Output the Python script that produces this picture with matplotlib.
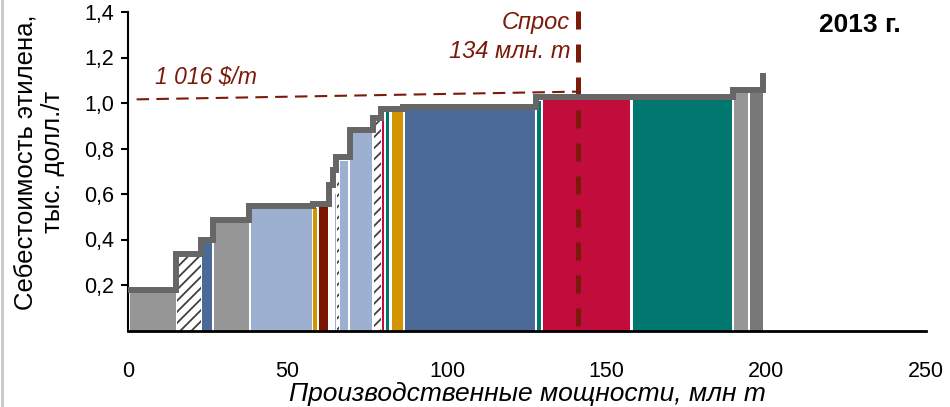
import numpy as np
import matplotlib.pyplot as plt
from matplotlib.lines import Line2D

plt.rcParams['font.family'] = ['Liberation Sans', 'DejaVu Sans']
plt.rcParams['hatch.linewidth'] = 1.3

# capacity blocks (mln t): start, end, cash cost (thous. $/t)
cap_start = [0.5, 15.4, 23.3, 26.9, 38.5, 58.1, 59.8, 64.7, 65.5, 66.5, 69.7,
             77.0, 79.7, 80.9, 82.8, 86.7, 128.0, 130.1, 158.3, 189.8, 195.0]
cap_end = [15.0, 22.9, 26.3, 37.8, 57.7, 59.1, 62.5, 65.1, 66.2, 68.9, 76.4,
           79.3, 80.1, 81.8, 86.0, 127.5, 129.3, 157.3, 189.1, 194.3, 199.0]
cost = [0.17, 0.325, 0.39, 0.475, 0.537, 0.54, 0.547, 0.60, 0.66, 0.745, 0.873,
        0.92, 0.963, 0.965, 0.966, 0.974, 1.008, 1.015, 1.015, 1.045, 1.047]
kind = ['gray', 'hatch', 'blue', 'gray', 'lblue', 'gold', 'dred', 'lblue', 'hatch',
        'lblue', 'lblue', 'hatch', 'crimson', 'teal', 'gold', 'blue', 'teal',
        'crimson', 'teal', 'gray', 'dgray']

# envelope of the cost curve
curve_x = [0, 15, 23, 26.5, 38, 58, 63, 64.3, 65.3, 69.5, 76.8, 79.2, 86,
           127.8, 189.5, 199]
curve_y = [0.18, 0.335, 0.40, 0.485, 0.547, 0.557, 0.64, 0.705, 0.762, 0.883,
           0.932, 0.975, 0.984, 1.025, 1.055, 1.13]

demand = 141
price_line_x = [2.7, 141]
price_line_y = [1.016, 1.05]

yticks = [0.2, 0.4, 0.6, 0.8, 1.0, 1.2, 1.4]
xticks = [0, 50, 100, 150, 200, 250]

palette = {'gray': '#969696', 'dgray': '#787878', 'blue': '#4b6a98',
           'lblue': '#9db0cf', 'gold': '#d39400', 'dred': '#7a1600',
           'crimson': '#c20c3c', 'teal': '#007870', 'hatch': 'white'}
red = '#7b1a0a'

fig = plt.figure(figsize=(9.5, 4.07), dpi=100)
ax = fig.add_axes([128 / 950, 76.5 / 407, 798 / 950, 318.5 / 407])

for s, e, c, k in zip(cap_start, cap_end, cost, kind):
    if k == 'hatch':
        ax.bar(s, c, width=e - s, align='edge', color='white',
               edgecolor='#404040', linewidth=0, hatch='///', zorder=2)
    else:
        ax.bar(s, c, width=e - s, align='edge', color=palette[k],
               linewidth=0, zorder=2)

ax.plot([demand, demand], [0.02, 1.48], color=red, lw=3.6,
        dashes=(3.6, 3.0), clip_on=False, zorder=3)
ax.plot(price_line_x, price_line_y, color=red, lw=1.5, dashes=(6, 3.5), zorder=3)
ax.plot(curve_x, curve_y, drawstyle='steps-post', color='#666666', lw=4.3,
        solid_joinstyle='miter', solid_capstyle='butt', zorder=4)

ax.set_xlim(0, 250)
ax.set_ylim(0, 1.4)
ax.set_xticks(xticks)
ax.set_xticklabels([str(t) for t in xticks])
ax.set_yticks(yticks)
ax.set_yticklabels([f'{t:.1f}'.replace('.', ',') for t in yticks])
ax.tick_params(axis='x', length=0, pad=22, labelsize=15.5)
ax.tick_params(axis='y', length=5, width=1.5, pad=5, labelsize=15.5)
for side in ['top', 'right']:
    ax.spines[side].set_visible(False)
ax.spines['left'].set_linewidth(1.5)
ax.spines['bottom'].set_linewidth(2)

ax.set_xlabel('Производственные мощности, млн т', fontsize=19,
              style='italic', labelpad=0)
fig.text(39.5 / 950, (407 - 162) / 407, 'Себестоимость этилена,\nтыс. долл./т',
         rotation=90, ha='center', va='center', fontsize=18.5, linespacing=1.2)

ax.text(138.5, 1.355, 'Спрос', color=red, fontsize=17, style='italic',
        ha='right', va='center')
ax.text(138.5, 1.225, '134 млн. т', color=red, fontsize=17, style='italic',
        ha='right', va='center')
ax.text(8.5, 1.11, '1 016 $/m', color=red, fontsize=16.5, style='italic',
        ha='left', va='center')
ax.text(242, 1.343, '2013 г.', fontsize=19, fontweight='bold',
        ha='right', va='center')

fig.add_artist(Line2D([0.0025, 0.0025], [0, 1], color='#c8c8c8', lw=2))

fig.savefig('out.png', dpi=100)
